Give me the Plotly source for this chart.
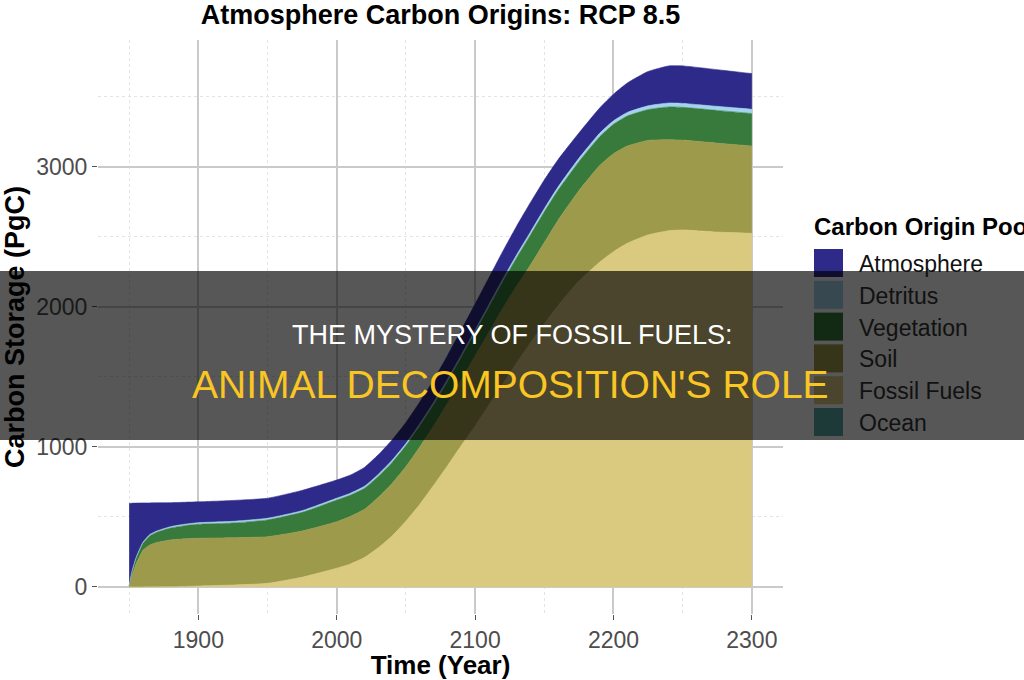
import plotly.graph_objects as go

# ---------------- data ----------------
years = [1850, 1852, 1855, 1858, 1860, 1865, 1870, 1880, 1890, 1900,
         1925, 1950, 1975, 2000, 2010, 2020, 2030, 2040, 2050, 2060,
         2070, 2080, 2090, 2100, 2110, 2120, 2130, 2140, 2150, 2160,
         2175, 2190, 2200, 2210, 2225, 2240, 2250, 2275, 2300]

ocean = [0] * len(years)
fossil_fuels = [0, 0, 0, 0, 0, 1, 1, 2, 4, 7,
                14, 26, 70, 134, 165, 210, 280, 365, 470, 590,
                725, 865, 1010, 1150, 1300, 1450, 1600, 1745, 1880, 2010,
                2185, 2320, 2395, 2455, 2515, 2545, 2550, 2535, 2526]
soil = [5, 80, 165, 225, 262, 299, 317, 334, 340, 341,
        338, 333, 330, 332, 340, 345, 360, 375, 390, 410,
        425, 445, 470, 500, 520, 540, 550, 555, 580, 610,
        645, 690, 700, 695, 675, 650, 642, 635, 624]
vegetation = [4, 26, 38, 47, 50, 66, 73, 85, 94, 100,
              105, 120, 133, 155, 152, 150, 150, 150, 150, 150,
              152, 155, 160, 168, 178, 190, 202, 215, 220, 215,
              208, 206, 210, 214, 220, 234, 234, 234, 232]
detritus = [1, 4, 7, 8, 8, 9, 9, 10, 10, 11,
            12, 12, 12, 13, 13, 14, 14, 15, 15, 16,
            16, 17, 17, 18, 19, 19, 20, 21, 22, 23,
            24, 25, 25, 26, 27, 28, 28, 29, 30]
atmosphere = [587, 488, 389, 320, 280, 225, 201, 171, 157, 149,
              149, 143, 145, 130, 130, 135, 140, 145, 150, 155,
              160, 170, 178, 185, 192, 198, 205, 210, 205, 195,
              180, 180, 190, 210, 245, 265, 268, 262, 255]

legend_names = ["Atmosphere", "Detritus", "Vegetation", "Soil", "Fossil Fuels", "Ocean"]
x_ticks = [1900, 2000, 2100, 2200, 2300]
y_ticks = [0, 1000, 2000, 3000]

title_text = "Atmosphere Carbon Origins: RCP 8.5"
x_title = "Time (Year)"
y_title = "Carbon Storage (PgC)"
legend_title = "Carbon Origin Pool"
overlay_line1 = "THE MYSTERY OF FOSSIL FUELS:"
overlay_line2 = "ANIMAL DECOMPOSITION'S ROLE"

# ---------------- styling ----------------
FONT = "Liberation Sans, Arial, Helvetica, sans-serif"
colors = {
    "Atmosphere": "#2D2A8A",
    "Detritus": "#A3D3EE",
    "Vegetation": "#377A3C",
    "Soil": "#9E9A4B",
    "Fossil Fuels": "#DACA80",
    "Ocean": "#57A9A3",
}
series = {
    "Atmosphere": atmosphere,
    "Detritus": detritus,
    "Vegetation": vegetation,
    "Soil": soil,
    "Fossil Fuels": fossil_fuels,
    "Ocean": ocean,
}

W, H = 1024, 680
L, R, T, B = 98, 241, 40, 66
PW, PH = W - L - R, H - T - B


def px_x(px):
    return (px - L) / PW


def px_y(py):
    return (H - B - py) / PH


fig = go.Figure()
# bottom of the stack first
for name in reversed(legend_names):
    c = colors[name]
    fig.add_trace(go.Scatter(
        x=years, y=series[name], name=name, stackgroup="one", mode="lines",
        line=dict(width=0 if name == "Ocean" else 0.6, color=c, shape="spline", smoothing=0.5),
        fillcolor=c, showlegend=False, hoverinfo="skip",
    ))

shapes = []
annotations = []

# manual legend (square keys like the reference)
key_top0 = 249
step = 31.8
for i, name in enumerate(legend_names):
    top = key_top0 + i * step
    shapes.append(dict(type="rect", xref="paper", yref="paper",
                       x0=px_x(814), x1=px_x(843), y0=px_y(top + 28), y1=px_y(top),
                       fillcolor=colors[name], line=dict(width=0), layer="above"))
    annotations.append(dict(text=name, xref="paper", yref="paper",
                            x=px_x(857), y=px_y(top + 15), xanchor="left", yanchor="middle",
                            showarrow=False, font=dict(family=FONT, size=23, color="#111111")))
annotations.append(dict(text=legend_title, xref="paper", yref="paper",
                        x=px_x(812), y=px_y(226), xanchor="left", yanchor="middle",
                        showarrow=False, font=dict(family=FONT, size=24, color="#000000", weight="bold")))

# dark overlay band
shapes.append(dict(type="rect", xref="paper", yref="paper",
                   x0=px_x(-2), x1=px_x(W + 2), y0=px_y(440), y1=px_y(271),
                   fillcolor="rgba(0,0,0,0.66)", line=dict(width=0), layer="above"))

annotations.append(dict(text=overlay_line1, xref="paper", yref="paper",
                        x=px_x(512), y=px_y(335), xanchor="center", yanchor="middle",
                        showarrow=False, font=dict(family=FONT, size=27, color="#FFFFFF")))
annotations.append(dict(text=overlay_line2, xref="paper", yref="paper",
                        x=px_x(510.5), y=px_y(384), xanchor="center", yanchor="middle",
                        showarrow=False, font=dict(family=FONT, size=39, color="#F9C623")))

axis_common = dict(
    showgrid=True, gridcolor="#CACACA", gridwidth=1.5, zeroline=False, showline=False,
    ticks="outside", ticklen=5, tickwidth=1.2, tickcolor="#555555",
    tickfont=dict(family=FONT, size=23, color="#4D4D4D"), automargin=False,
)

fig.update_layout(
    width=W, height=H,
    margin=dict(l=L, r=R, t=T, b=B, autoexpand=False),
    paper_bgcolor="white", plot_bgcolor="white",
    font=dict(family=FONT, color="#000000"),
    showlegend=False,
    title=dict(text=title_text, x=0.5, xref="paper", xanchor="center",
               y=1 - 15 / H, yref="container", yanchor="middle",
               font=dict(family=FONT, size=27, color="#000000", weight="bold")),
    xaxis=dict(range=[1827.5, 2322.5], tickvals=x_ticks,
               minor=dict(tickvals=[1850, 1950, 2050, 2150, 2250], showgrid=True,
                          gridcolor="#E4E4E4", griddash="dot", gridwidth=1, ticks=""),
               title=dict(text=x_title, standoff=1,
                          font=dict(family=FONT, size=26, color="#000000", weight="bold")),
               **axis_common),
    yaxis=dict(range=[-193, 3907], tickvals=y_ticks,
               minor=dict(tickvals=[500, 1500, 2500, 3500], showgrid=True,
                          gridcolor="#E4E4E4", griddash="dot", gridwidth=1, ticks=""),
               title=dict(text=y_title, standoff=4,
                          font=dict(family=FONT, size=27, color="#000000", weight="bold")),
               **axis_common),
    shapes=shapes,
    annotations=annotations,
)

fig.write_html("out.html")
